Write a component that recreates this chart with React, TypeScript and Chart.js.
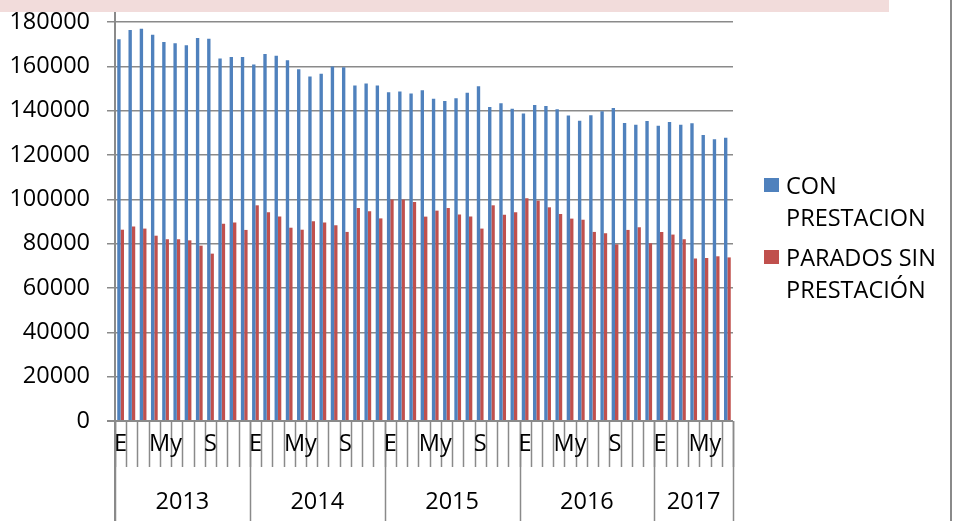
import React, { useEffect, useRef } from "react";
import { Chart, registerables } from "chart.js";

Chart.register(...registerables);

const years = ["2013", "2014", "2015", "2016", "2017"];
const monthsPerYear = [12, 12, 12, 12, 7];
const monthTickLabels = ["E", "", "", "", "My", "", "", "", "S", "", "", ""];

const conPrestacion = [
  172200, 176400, 177000, 174300, 171000, 170400, 169500, 172800, 172500, 163500, 164200, 164200,
  160800, 165600, 164800, 162700, 158700, 155400, 156700, 159900, 159600, 151400, 152200, 151300,
  148300, 148600, 147800, 149200, 145400, 144400, 145600, 148100, 151000, 141700, 143300, 140900,
  138700, 142600, 142100, 140600, 137800, 135500, 137900, 139700, 141200, 134400, 133700, 135300,
  133200, 134900, 133700, 134300, 129000, 127100, 127800,
];

const sinPrestacion = [
  86300, 87800, 86800, 83600, 82000, 82000, 81500, 79100, 75500, 89000, 89500, 86200,
  97300, 94200, 92300, 87200, 86300, 90100, 89600, 88300, 85300, 96100, 94600, 91400,
  99900, 99900, 98800, 92200, 94900, 96100, 93200, 92200, 86800, 97300, 93100, 94200,
  100500, 99400, 96400, 93400, 91300, 90800, 85300, 84700, 79700, 86200, 87400, 80200,
  85300, 84100, 82000, 73300, 73500, 74300, 73800,
];

const seriesNames = [
  ["CON", "PRESTACION"],
  ["PARADOS SIN", "PRESTACIÓN"],
];

const yMin = 0;
const yMax = 180000;
const yStep = 20000;

const BLUE = "#4F81BD";
const RED = "#C0504D";
const LINE = "#8a8a8a";
const FONT = '"Open Sans", "Noto Sans", sans-serif';
const FONT_SIZE = 23.5;

const categories: string[] = [];
const monthIndex: number[] = [];
years.forEach((y, yi) => {
  for (let m = 0; m < monthsPerYear[yi]; m++) {
    categories.push(`${y}-${String(m + 1).padStart(2, "0")}`);
    monthIndex.push(m);
  }
});

const decorPlugin = {
  id: "decor",
  beforeDraw(chart: any) {
    const ctx = chart.ctx;
    ctx.save();
    ctx.fillStyle = "#ffffff";
    ctx.fillRect(0, 0, chart.width, chart.height);
    ctx.restore();
  },
  afterDraw(chart: any) {
    const ctx = chart.ctx;
    const area = chart.chartArea;
    const xs = chart.scales.x;
    const n = categories.length;
    const left = area.left;
    const right = area.right;
    const bottom = area.bottom;
    const step = (right - left) / n;
    const H = chart.height;

    ctx.save();
    ctx.strokeStyle = LINE;
    ctx.lineWidth = 1.5;
    // month ticks
    for (let i = 0; i <= n; i++) {
      const px = Math.round(left + i * step) + 0.5;
      ctx.beginPath();
      ctx.moveTo(px, bottom);
      ctx.lineTo(px, bottom + 46);
      ctx.stroke();
    }
    // year separators
    let acc = 0;
    const bounds = [0];
    monthsPerYear.forEach((c) => {
      acc += c;
      bounds.push(acc);
    });
    bounds.forEach((b) => {
      const px = Math.round(left + b * step) + 0.5;
      ctx.beginPath();
      ctx.moveTo(px, bottom);
      ctx.lineTo(px, H);
      ctx.stroke();
    });
    // extended y axis line
    ctx.lineWidth = 2;
    ctx.beginPath();
    ctx.moveTo(left, 12);
    ctx.lineTo(left, H);
    ctx.stroke();
    // axis line at 0
    ctx.beginPath();
    ctx.moveTo(left - 8, bottom);
    ctx.lineTo(right, bottom);
    ctx.stroke();
    // right frame line
    ctx.beginPath();
    ctx.moveTo(951, 0);
    ctx.lineTo(951, H);
    ctx.stroke();

    // labels
    ctx.fillStyle = "#000";
    ctx.font = `${FONT_SIZE}px ${FONT}`;
    ctx.textAlign = "center";
    ctx.textBaseline = "alphabetic";
    categories.forEach((_, i) => {
      const lbl = monthTickLabels[monthIndex[i]];
      if (lbl) ctx.fillText(lbl, xs.getPixelForValue(i), bottom + 30);
    });
    for (let yi = 0; yi < years.length; yi++) {
      const cx = left + ((bounds[yi] + bounds[yi + 1]) / 2) * step;
      ctx.fillText(years[yi], cx, bottom + 88);
    }

    // pink band
    ctx.fillStyle = "#F2DCDB";
    ctx.fillRect(0, 0, 889, 12);

    // legend
    const colors = [BLUE, RED];
    const itemTops = [178, 250];
    ctx.textAlign = "left";
    seriesNames.forEach((lines, k) => {
      ctx.fillStyle = colors[k];
      ctx.fillRect(764, itemTops[k], 15, 14);
      ctx.fillStyle = "#000";
      lines.forEach((t, li) => {
        ctx.fillText(t, 786, itemTops[k] + 16 + li * 32);
      });
    });
    ctx.restore();
  },
};

export default function App() {
  const ref = useRef<HTMLCanvasElement>(null);
  useEffect(() => {
    if (!ref.current) return;
    const chart = new Chart(ref.current, {
      type: "bar",
      data: {
        labels: categories,
        datasets: [
          {
            label: seriesNames[0].join(" "),
            data: conPrestacion,
            backgroundColor: BLUE,
            barPercentage: 1,
            categoryPercentage: 0.6,
          },
          {
            label: seriesNames[1].join(" "),
            data: sinPrestacion,
            backgroundColor: RED,
            barPercentage: 1,
            categoryPercentage: 0.6,
          },
        ],
      },
      options: {
        responsive: false,
        animation: false,
        devicePixelRatio: 1,
        layout: { padding: { left: 0, top: 22, right: 220, bottom: 100 } },
        plugins: { legend: { display: false }, tooltip: { enabled: false } },
        scales: {
          x: { display: false, offset: true },
          y: {
            min: yMin,
            max: yMax,
            afterFit: (s: any) => {
              s.width = 115;
              s.paddingTop = 0;
              s.paddingBottom = 0;
            },
            ticks: {
              stepSize: yStep,
              color: "#000",
              padding: 17,
              font: { family: FONT, size: FONT_SIZE },
              callback: (v: any) => String(v),
            },
            grid: {
              color: LINE,
              lineWidth: 1.5,
              tickLength: 8,
              drawTicks: true,
            },
            border: { display: true, color: LINE, width: 2 },
          },
        },
      },
      plugins: [decorPlugin],
    });
    return () => chart.destroy();
  }, []);
  return (
    <div style={{ position: "absolute", left: 0, top: 0, width: 953, height: 521 }}>
      <canvas ref={ref} width={953} height={521} />
    </div>
  );
}
